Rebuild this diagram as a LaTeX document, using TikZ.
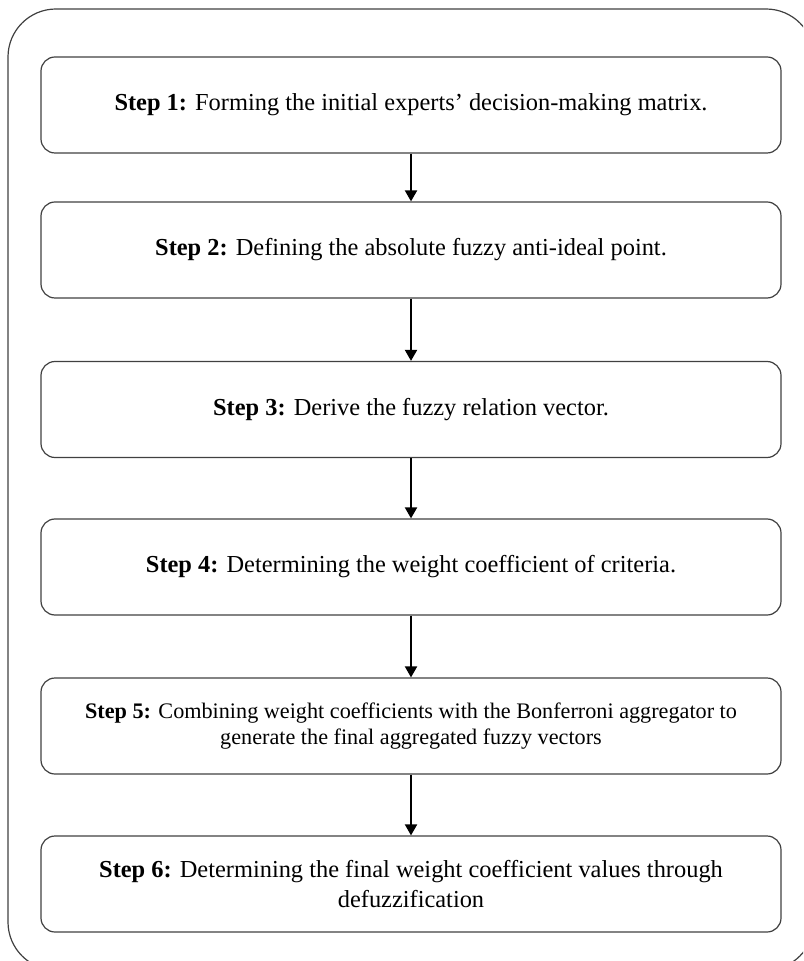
\documentclass[tikz,border=0pt]{standalone}
\usepackage{fontspec}
\setmainfont{Liberation Serif}
\usetikzlibrary{arrows.meta}

\tikzset{stepbox/.style={draw=black!75, line width=0.6pt, rounded corners=7pt,
  minimum width=370pt, minimum height=48pt, inner sep=0pt, align=center,
  font=\fontsize{12.2}{14.6}\selectfont}}

\begin{document}
\begin{tikzpicture}[x=0.5pt,y=-0.5pt]
\useasboundingbox (0,0) rectangle (803,961);
\clip (0,0) rectangle (803,961);

\draw[black!75, line width=0.6pt, rounded corners=24pt] (8,9) rectangle (814,970);

\def\midx{411}

\node[stepbox] (s1) at (\midx,105) {\textbf{Step 1:} Forming the initial experts’ decision-making matrix.};
\node[stepbox] (s2) at (\midx,250) {\textbf{Step 2:} Defining the absolute fuzzy anti-ideal point.};
\node[stepbox] (s3) at (\midx,409.5) {\textbf{Step 3:} Derive the fuzzy relation vector.};
\node[stepbox] (s4) at (\midx,567) {\textbf{Step 4:} Determining the weight coefficient of criteria.};
\node[stepbox, font=\fontsize{11.1}{13.4}\selectfont] (s5) at (\midx,726) {\textbf{Step 5:} Combining weight coefficients with the Bonferroni aggregator to\\generate the final aggregated fuzzy vectors};
\node[stepbox] (s6) at (\midx,884) {\textbf{Step 6:} Determining the final weight coefficient values through\\defuzzification};

\foreach \a/\b in {s1/s2,s2/s3,s3/s4,s4/s5,s5/s6}
  \draw[-{Triangle[length=5.5pt,width=6pt]}, line width=1pt] (\a.south) -- (\b.north);

\end{tikzpicture}
\end{document}
